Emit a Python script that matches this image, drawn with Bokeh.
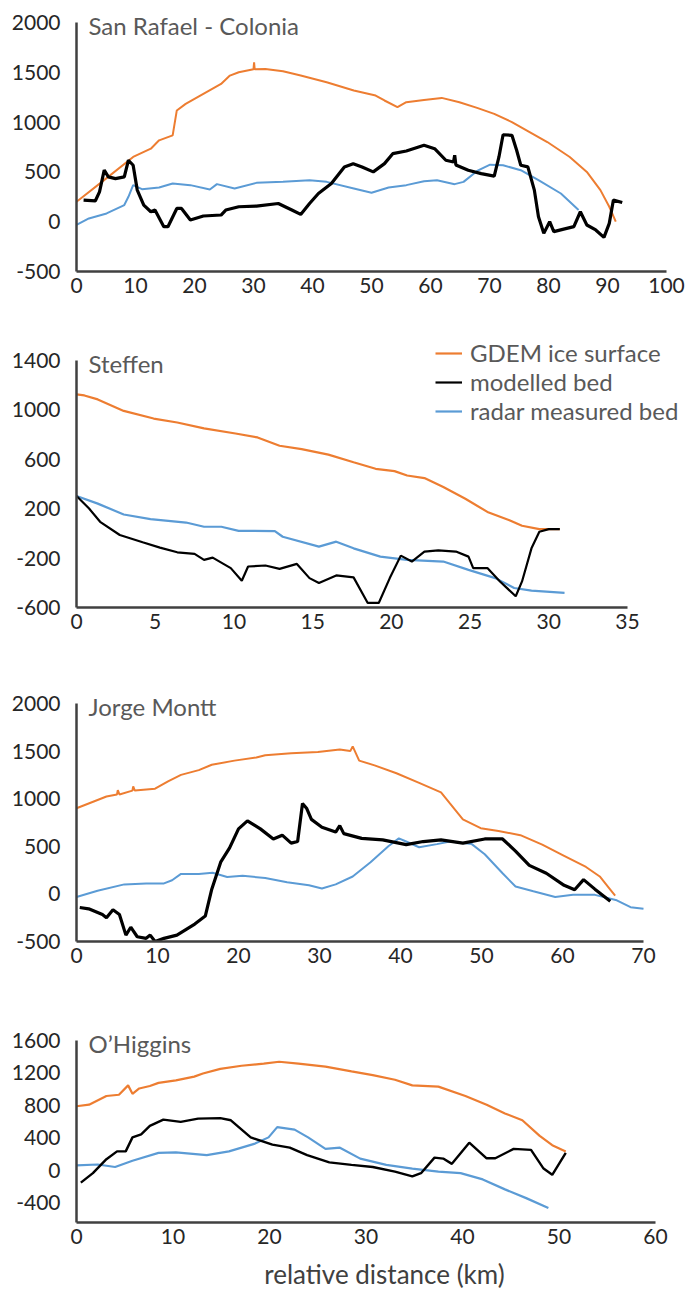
from bokeh.plotting import figure
from bokeh.models import FixedTicker, Legend, LegendItem, Label, Range1d
from bokeh.layouts import column
from bokeh.embed import file_html
from bokeh.resources import INLINE

# ---------------- data ----------------
titles = ["San Rafael - Colonia", "Steffen", "Jorge Montt", "O\u2019Higgins"]
series_names = ["GDEM ice surface", "modelled bed", "radar measured bed"]

# San Rafael - Colonia
sr_surf_x = [0, 4.3, 9.6, 12.6, 14, 16.3, 17, 18.5, 21.5, 24.5, 26, 27.5, 30.0, 30.1, 30.2, 32, 35, 38, 42.4, 47, 50.7, 52.2, 54.4, 55.9, 58.9, 61.9, 64.9, 67.9, 70.8, 73.8, 76.8, 79.8, 83.6, 86.5, 88.8, 90.3, 91.4]
sr_surf_y = [200, 400, 650, 733, 817, 867, 1117, 1183, 1283, 1383, 1467, 1500, 1530, 1600, 1530, 1533, 1510, 1467, 1400, 1317, 1267, 1217, 1150, 1200, 1223, 1243, 1200, 1143, 1083, 1000, 900, 800, 650, 500, 317, 150, 0]
sr_bed_x = [1.2, 3.2, 3.9, 4.7, 5.4, 6.6, 8.1, 8.8, 9.6, 10.3, 11.4, 12.6, 13.3, 14.8, 15.5, 17, 17.8, 19.3, 21.5, 24.5, 25.3, 27.5, 30.5, 34.2, 36.5, 38, 39.5, 41, 43.2, 45.4, 46.9, 48.4, 50.3, 52.2, 53.6, 55.9, 58.9, 60.7, 62.6, 63.9, 64.1, 64.3, 66.4, 68.6, 70.8, 71.6, 72.3, 73.8, 74.6, 75.3, 76.5, 77.6, 78.3, 79.2, 80.2, 80.9, 82.4, 84.3, 85.4, 86.5, 88, 89.4, 90.3, 91, 92.5]
sr_bed_y = [217, 210, 300, 517, 450, 433, 450, 617, 567, 317, 167, 100, 117, -50, -50, 133, 133, 17, 57, 67, 117, 150, 157, 183, 117, 73, 183, 283, 383, 550, 583, 550, 500, 583, 683, 710, 767, 733, 617, 600, 667, 570, 517, 483, 457, 650, 873, 867, 717, 567, 550, 317, 50, -117, 0, -100, -77, -50, 100, -33, -83, -157, -17, 217, 193]
sr_radar_x = [0, 2.1, 5.1, 8.1, 8.8, 9.6, 11.1, 14, 16.3, 19.3, 22.6, 23.8, 26.8, 30.5, 35, 39.5, 42.4, 47, 50, 52.9, 55.9, 58.9, 61.1, 64.1, 65.6, 67.9, 70.1, 72.3, 75.3, 78.3, 82.1, 85.1]
sr_radar_y = [-33, 33, 83, 167, 250, 367, 327, 343, 383, 367, 323, 377, 333, 390, 400, 417, 400, 333, 290, 343, 367, 407, 417, 377, 400, 510, 573, 567, 517, 417, 283, 117]

# Steffen
st_surf_x = [0, 0.5, 1.35, 3.0, 4.9, 6.4, 8.1, 10.1, 11.5, 12.9, 14.3, 16, 17.6, 19.0, 20.2, 21.0, 22.1, 23.3, 24.7, 26.1, 27.5, 28.3, 29.4, 30.7]
st_surf_y = [1125, 1117, 1085, 992, 930, 898, 850, 809, 777, 710, 683, 638, 576, 523, 504, 469, 448, 375, 281, 174, 107, 62, 35, 35]
st_bed_x = [0, 0.8, 1.5, 2.75, 4.2, 5.3, 6.4, 7.5, 8.1, 8.65, 9.8, 10.5, 10.9, 12.0, 12.9, 14.0, 14.8, 15.4, 16.5, 17.6, 18.5, 19.2, 19.9, 20.6, 21.3, 22.1, 22.98, 24.1, 24.9, 25.2, 26.1, 26.9, 27.9, 28.3, 28.9, 29.4, 30.0, 30.7]
st_bed_y = [303, 201, 94, -13, -72, -115, -153, -166, -214, -196, -281, -383, -268, -260, -287, -247, -362, -402, -340, -356, -563, -563, -362, -180, -228, -147, -137, -147, -188, -281, -281, -389, -509, -389, -121, 13, 35, 35]
st_radar_x = [0, 1.35, 3.0, 4.7, 6.96, 8.1, 9.2, 10.3, 12.6, 13.1, 15.4, 16.5, 17.6, 19.3, 21, 23.3, 24.9, 26.6, 27.8, 28.9, 31]
st_radar_y = [303, 241, 153, 115, 88, 54, 54, 21, 19, -27, -107, -67, -121, -188, -214, -228, -295, -362, -442, -464, -482]

# Jorge Montt
jm_surf_x = [0, 1.5, 3.7, 5.0, 5.1, 5.3, 6.9, 7.0, 7.2, 9.7, 11.3, 12.9, 15.1, 16.7, 19.5, 22.2, 23.3, 26.5, 29.8, 32.5, 33.8, 34.1, 34.9, 36.8, 39.5, 42.3, 45, 46.1, 47.7, 49.9, 52.1, 54.8, 57.5, 60.2, 62.9, 64.6, 65.7, 66.5]
jm_surf_y = [900, 950, 1023, 1045, 1090, 1045, 1085, 1130, 1085, 1105, 1183, 1250, 1300, 1357, 1400, 1433, 1457, 1477, 1490, 1517, 1500, 1550, 1400, 1350, 1267, 1167, 1067, 950, 783, 690, 660, 617, 517, 400, 283, 183, 67, -17]
jm_bed_x = [0.4, 1.5, 3.2, 3.7, 4.5, 5.3, 6.1, 6.7, 7.5, 8.6, 9.1, 9.7, 10.8, 12.4, 14.6, 15.9, 16.7, 17.8, 18.9, 20.0, 21.1, 22.7, 24.3, 25.4, 26.5, 27.3, 27.9, 28.4, 29.0, 30.3, 32.0, 32.5, 33.0, 35.2, 37.8, 40.7, 42.8, 45, 47.7, 50.4, 52.6, 54.2, 55.9, 58, 60.2, 61.5, 62.6, 64, 65.9]
jm_bed_y = [-143, -157, -217, -250, -167, -217, -433, -350, -450, -467, -433, -500, -467, -433, -317, -233, 50, 333, 483, 683, 767, 683, 577, 617, 533, 550, 950, 900, 783, 700, 650, 717, 633, 583, 567, 517, 550, 567, 533, 577, 577, 450, 300, 217, 90, 43, 150, 50, -77]
jm_radar_x = [0, 2.6, 5.9, 8.6, 10.8, 11.8, 12.9, 15.1, 16.8, 18.6, 20.5, 23.3, 26, 28.7, 30.3, 32, 34.1, 36.3, 38.5, 39.8, 40.7, 42.3, 44.5, 46.1, 48.8, 50.4, 52.6, 54.2, 56.4, 59.1, 61.3, 64, 66.7, 68.4, 70]
jm_radar_y = [-33, 33, 100, 110, 110, 143, 210, 210, 223, 177, 190, 167, 123, 90, 57, 100, 183, 333, 500, 583, 550, 490, 523, 550, 523, 417, 217, 77, 27, -33, -10, -10, -67, -140, -157]

# O'Higgins
oh_surf_x = [0, 1.3, 3.1, 4.4, 5.35, 5.8, 6.5, 7.6, 8.5, 10.3, 12.2, 13.1, 14.9, 17.1, 19.4, 21, 23, 25.8, 28.5, 30.7, 33, 34.8, 37.5, 40.3, 42.5, 44.4, 46.2, 48, 49.3, 50.7]
oh_surf_y = [788, 808, 915, 930, 1046, 942, 1008, 1038, 1077, 1108, 1154, 1192, 1250, 1288, 1315, 1338, 1315, 1277, 1219, 1173, 1115, 1046, 1031, 915, 808, 700, 615, 423, 308, 231]
oh_bed_x = [0.45, 1.7, 3.1, 4.2, 5.1, 5.8, 6.7, 7.6, 9.0, 10.8, 12.6, 14.9, 16, 18.05, 20.3, 22.1, 23.9, 26.2, 28.5, 30.7, 33, 34.8, 35.7, 37.1, 38, 38.9, 40.7, 42.5, 43.4, 45.3, 47.1, 48.4, 49.3, 50.7]
oh_bed_y = [-154, -38, 135, 231, 231, 404, 442, 546, 623, 596, 635, 642, 615, 404, 315, 277, 185, 96, 65, 38, -19, -77, -38, 154, 142, 77, 338, 146, 146, 262, 250, 19, -58, 212]
oh_radar_x = [0, 2.2, 4, 5.8, 8.5, 10.3, 13.5, 15.8, 18.5, 19.9, 20.8, 22.6, 24, 25.8, 27.3, 29.4, 32.1, 34.8, 37.5, 39.8, 42.1, 44.4, 46.6, 48.9]
oh_radar_y = [58, 69, 38, 115, 212, 219, 185, 231, 327, 404, 531, 500, 404, 262, 277, 142, 65, 19, -19, -38, -115, -238, -346, -469]

# axes
sr_xticks = [0, 10, 20, 30, 40, 50, 60, 70, 80, 90, 100]
sr_yticks = [-500, 0, 500, 1000, 1500, 2000]
st_xticks = [0, 5, 10, 15, 20, 25, 30, 35]
st_yticks = [-600, -200, 200, 600, 1000, 1400]
jm_xticks = [0, 10, 20, 30, 40, 50, 60, 70]
jm_yticks = [-500, 0, 500, 1000, 1500, 2000]
oh_xticks = [0, 10, 20, 30, 40, 50, 60]
oh_yticks = [-400, 0, 400, 800, 1200, 1600]
x_label = "relative distance (km)"

# ---------------- style / layout (pixels) ----------------
ORANGE = "#ED7D31"
BLUE = "#5B9BD5"
BLACK = "#000000"
AXIS = "#404040"
TICKTXT = "#262626"
TITLETXT = "#595959"
FONT = "Lato"
PAGE_W = 692
LEFT = 76            # x pixel of the y axis
FRAME_W = PAGE_W - LEFT


def make_fig(fig_top, top_tick_px, bottom_tick_px, axis_bottom, axis_right, fig_bottom,
             xticks, yticks):
    # frame spans from the figure top to the x axis and from the y axis to the page edge;
    # the axis lines are bounded so they stop where the reference's axes stop
    frame_h = axis_bottom - fig_top
    x_end = xticks[0] + (xticks[-1] - xticks[0]) * FRAME_W / (axis_right - LEFT)
    per_px = (yticks[-1] - yticks[0]) / (bottom_tick_px - top_tick_px)
    y_start = yticks[0] - (axis_bottom - bottom_tick_px) * per_px
    y_end = yticks[-1] + (top_tick_px - fig_top) * per_px
    p = figure(frame_width=FRAME_W, frame_height=frame_h,
               min_border_left=LEFT, min_border_right=0,
               min_border_top=0, min_border_bottom=fig_bottom - axis_bottom,
               x_range=Range1d(xticks[0], x_end),
               y_range=Range1d(y_start, y_end),
               output_backend="svg", toolbar_location=None)
    p.outline_line_color = None
    p.grid.visible = False
    for ax, ticks, bnds in ((p.xaxis[0], xticks, (xticks[0], xticks[-1])),
                            (p.yaxis[0], yticks, (y_start, yticks[-1]))):
        ax.ticker = FixedTicker(ticks=ticks)
        ax.bounds = bnds
        ax.major_label_overrides = {t: str(t) for t in ticks}
        ax.axis_line_color = AXIS
        ax.axis_line_width = 2.5
        ax.major_tick_line_color = None
        ax.minor_tick_line_color = None
        ax.major_tick_out = 0
        ax.major_tick_in = 0
        ax.major_label_text_font = FONT
        ax.major_label_text_font_size = "21px"
        ax.major_label_text_color = TICKTXT
    p.xaxis.major_label_standoff = 6
    p.yaxis.major_label_standoff = 16
    return p


def add_title(p, text, x, y):
    p.add_layout(Label(x=x, y=y, text=text, text_font=FONT,
                       text_font_size="24px", text_color=TITLETXT,
                       text_baseline="middle", text_align="left",
                       x_offset=12, y_offset=-3))


# Panel 1
p1 = make_fig(0, 22, 271, 271, 666, 300, sr_xticks, sr_yticks)
p1.line(sr_surf_x, sr_surf_y, line_color=ORANGE, line_width=2)
p1.line(sr_radar_x, sr_radar_y, line_color=BLUE, line_width=2)
p1.line(sr_bed_x, sr_bed_y, line_color=BLACK, line_width=3.2)
add_title(p1, titles[0], sr_xticks[0], sr_yticks[-1])

# Panel 2
p2 = make_fig(300, 360, 607, 607, 627, 640, st_xticks, st_yticks)
r_s = p2.line(st_surf_x, st_surf_y, line_color=ORANGE, line_width=2.2)
r_r = p2.line(st_radar_x, st_radar_y, line_color=BLUE, line_width=2.2)
r_b = p2.line(st_bed_x, st_bed_y, line_color=BLACK, line_width=2.2)
add_title(p2, titles[1], st_xticks[0], st_yticks[-1])
legend = Legend(items=[LegendItem(label=series_names[0], renderers=[r_s]),
                       LegendItem(label=series_names[1], renderers=[r_b]),
                       LegendItem(label=series_names[2], renderers=[r_r])],
                location=(359, 182), orientation="vertical",
                padding=0, margin=0, spacing=0,
                glyph_width=27, glyph_height=20, label_height=20,
                label_standoff=8, border_line_color=None,
                background_fill_alpha=0,
                label_text_font=FONT, label_text_font_size="24px",
                label_text_line_height=0.95,
                label_text_color=TITLETXT)
p2.add_layout(legend)

# Panel 3
p3 = make_fig(640, 703, 941, 941, 643, 975, jm_xticks, jm_yticks)
p3.line(jm_surf_x, jm_surf_y, line_color=ORANGE, line_width=2)
p3.line(jm_radar_x, jm_radar_y, line_color=BLUE, line_width=2)
p3.line(jm_bed_x, jm_bed_y, line_color=BLACK, line_width=3.2)
add_title(p3, titles[2], jm_xticks[0], jm_yticks[-1])

# Panel 4 (x axis sits below the lowest labelled tick)
p4 = make_fig(975, 1040, 1202, 1222, 655, 1292, oh_xticks, oh_yticks)
p4.line(oh_surf_x, oh_surf_y, line_color=ORANGE, line_width=2.2)
p4.line(oh_radar_x, oh_radar_y, line_color=BLUE, line_width=2.2)
p4.line(oh_bed_x, oh_bed_y, line_color=BLACK, line_width=2.4)
add_title(p4, titles[3], oh_xticks[0], oh_yticks[-1])
p4.xaxis.axis_label = x_label
p4.xaxis.axis_label_text_font = FONT
p4.xaxis.axis_label_text_font_size = "26px"
p4.xaxis.axis_label_text_font_style = "normal"
p4.xaxis.axis_label_text_color = AXIS
p4.xaxis.axis_label_standoff = 11

layout = column(p1, p2, p3, p4, spacing=0)
open("out.html", "w").write(file_html(layout, INLINE))
